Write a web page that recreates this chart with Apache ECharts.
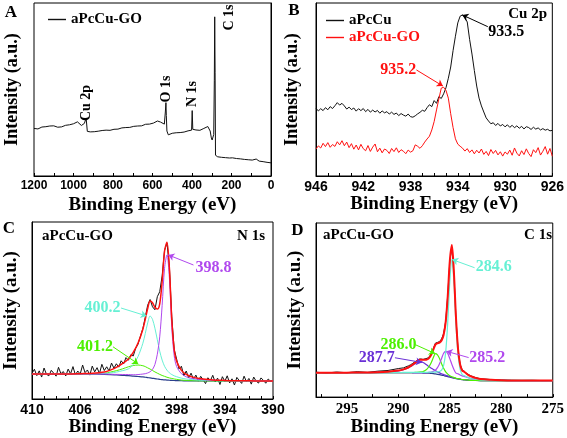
<!DOCTYPE html>
<html><head><meta charset="utf-8">
<script src="https://cdn.jsdelivr.net/npm/echarts@6/dist/echarts.min.js"></script>
<style>html,body{margin:0;padding:0;background:#fff}#c{width:567px;height:438px}</style>
</head><body><div id="c"></div>
<script>
// ---------- Panel A: survey spectrum (eV, intensity) ----------
const surveyGO = [[1200,27.5],[1190,28.0],[1180,27.2],[1170,27.8],[1160,28.3],[1150,27.9],[1140,28.5],[1130,28.1],[1120,28.9],[1110,29.4],[1100,29.0],[1090,28.6],[1080,28.2],[1070,28.8],[1060,28.4],[1050,29.0],[1040,29.3],[1030,29.1],[1020,29.6],[1010,29.9],[1000,30.2],[990,30.5],[980,31.3],[970,30.6],[960,29.2],[950,29.9],[945,30.4],[940,29.5],[936,33.5],[934,33.0],[930,25.8],[925,25.0],[915,25.5],[905,25.2],[895,25.6],[885,25.4],[875,25.9],[865,26.0],[855,26.3],[845,26.1],[835,26.5],[825,26.7],[815,26.4],[805,26.9],[795,27.0],[785,27.3],[775,27.1],[765,27.5],[755,27.8],[745,27.6],[735,28.0],[725,28.3],[715,28.1],[705,28.5],[695,28.7],[685,28.4],[675,28.9],[665,29.2],[655,29.0],[645,29.6],[635,29.9],[625,29.7],[615,30.0],[605,30.3],[595,30.6],[585,31.0],[575,31.8],[568,32.0],[560,31.2],[550,30.5],[540,30.0],[535,37.0],[532,42.4],[530,35.0],[527,26.0],[520,23.8],[510,24.3],[500,24.7],[490,24.5],[480,25.0],[470,25.3],[460,25.1],[450,25.6],[440,25.4],[430,25.9],[420,26.1],[410,26.0],[402,26.5],[399,37.8],[396,27.0],[390,26.3],[380,26.6],[370,26.8],[360,26.4],[350,27.0],[340,27.5],[330,27.9],[320,28.6],[315,28.3],[308,26.0],[302,22.0],[298,20.8],[294,21.5],[290,24.0],[287,55.0],[285,92.0],[283,60.0],[281,12.0],[278,11.3],[270,11.1],[260,11.0],[250,10.8],[240,10.9],[230,10.6],[220,10.8],[210,10.4],[200,11.3],[195,10.5],[185,10.3],[175,10.1],[165,10.2],[155,9.9],[145,9.8],[135,9.6],[125,9.7],[115,9.4],[105,9.3],[95,9.2],[85,9.0],[75,9.8],[70,8.9],[60,8.6],[50,8.5],[40,8.3],[30,8.0],[20,7.9],[10,7.8],[0,7.6]];
const surveyLabels = [["Cu 2p",933,42.2],["O 1s",532,50.3],["N 1s",397,47.4],["C 1s",213,91.6]];

// ---------- Panel B: Cu 2p ----------
const cuPc = [[946.0,39.1],[945.8,37.6],[945.6,38.9],[945.4,37.8],[945.2,39.5],[945.0,38.3],[944.8,40.1],[944.6,39.0],[944.4,40.6],[944.2,42.4],[944.0,41.0],[943.8,42.0],[943.6,40.5],[943.4,38.7],[943.2,39.8],[943.0,38.4],[942.8,39.3],[942.6,37.5],[942.4,38.9],[942.2,37.8],[942.0,39.0],[941.8,37.2],[941.6,38.5],[941.4,36.9],[941.2,38.1],[941.0,37.0],[940.8,37.9],[940.6,36.3],[940.4,37.6],[940.2,36.5],[940.0,37.2],[939.8,35.8],[939.6,36.9],[939.4,35.6],[939.2,36.4],[939.0,34.9],[938.8,36.1],[938.6,35.2],[938.4,34.6],[938.2,35.8],[938.0,34.3],[937.8,34.0],[937.6,34.8],[937.4,35.9],[937.2,36.8],[937.0,38.0],[936.8,37.4],[936.6,39.5],[936.4,41.2],[936.2,40.1],[936.0,43.6],[935.8,42.0],[935.6,45.9],[935.4,44.8],[935.2,47.5],[935.0,51.0],[934.8,56.5],[934.6,63.0],[934.4,72.5],[934.2,80.8],[934.0,88.5],[933.8,92.4],[933.6,93.1],[933.4,91.6],[933.2,89.0],[933.0,79.0],[932.8,70.5],[932.6,61.0],[932.4,52.0],[932.2,45.0],[932.0,40.5],[931.8,37.0],[931.6,33.6],[931.4,31.8],[931.2,30.2],[931.0,30.8],[930.8,29.2],[930.6,30.4],[930.4,28.9],[930.2,29.8],[930.0,28.4],[929.8,29.6],[929.6,28.1],[929.4,29.3],[929.2,27.9],[929.0,29.0],[928.8,27.6],[928.6,28.7],[928.4,27.2],[928.2,28.5],[928.0,28.0],[927.8,26.9],[927.6,28.2],[927.4,27.1],[927.2,27.8],[927.0,26.6],[926.8,27.4],[926.6,26.5],[926.4,27.0],[926.2,26.1],[926.0,26.4]];
const cuGO = [[946.0,15.6],[945.8,17.4],[945.6,16.2],[945.4,18.9],[945.2,17.0],[945.0,19.3],[944.8,16.6],[944.6,18.2],[944.4,17.1],[944.2,19.8],[944.0,18.0],[943.8,20.4],[943.6,17.5],[943.4,19.6],[943.2,16.4],[943.0,18.7],[942.8,15.5],[942.6,17.9],[942.4,15.1],[942.2,18.3],[942.0,15.8],[941.8,14.6],[941.6,17.6],[941.4,14.2],[941.2,16.7],[941.0,18.5],[940.8,14.0],[940.6,16.1],[940.4,13.4],[940.2,15.6],[940.0,14.8],[939.8,13.0],[939.6,15.9],[939.4,14.1],[939.2,16.3],[939.0,13.6],[938.8,15.2],[938.6,14.3],[938.4,12.9],[938.2,15.0],[938.0,13.8],[937.8,14.6],[937.6,18.0],[937.4,17.2],[937.2,16.0],[937.0,17.5],[936.8,19.6],[936.6,21.4],[936.4,23.0],[936.2,26.6],[936.0,31.5],[935.8,38.2],[935.6,44.6],[935.4,50.8],[935.2,51.3],[935.0,49.5],[934.8,45.0],[934.6,36.0],[934.4,28.0],[934.2,21.5],[934.0,18.4],[933.8,17.2],[933.6,16.1],[933.4,14.4],[933.2,15.8],[933.0,13.6],[932.8,15.1],[932.6,12.8],[932.4,14.9],[932.2,13.3],[932.0,15.6],[931.8,12.5],[931.6,14.2],[931.4,11.8],[931.2,15.3],[931.0,13.0],[930.8,14.8],[930.6,12.2],[930.4,14.0],[930.2,11.5],[930.0,13.9],[929.8,12.6],[929.6,15.0],[929.4,12.0],[929.2,16.2],[929.0,13.2],[928.8,11.6],[928.6,14.6],[928.4,12.4],[928.2,15.7],[928.0,13.0],[927.8,11.2],[927.6,15.2],[927.4,13.5],[927.2,16.4],[927.0,12.1],[926.8,14.3],[926.6,17.0],[926.4,12.6],[926.2,15.9],[926.0,11.4]];

// ---------- Panel C: N 1s ----------
const n1sData = [[410.0,14.5],[409.8,16.8],[409.6,13.2],[409.4,15.9],[409.2,12.4],[409.0,17.5],[408.8,14.0],[408.6,13.1],[408.4,16.2],[408.2,14.6],[408.0,12.9],[407.8,17.9],[407.6,14.3],[407.4,15.5],[407.2,13.0],[407.0,16.9],[406.8,14.2],[406.6,18.3],[406.4,13.6],[406.2,15.8],[406.0,14.1],[405.8,19.2],[405.6,14.9],[405.4,16.4],[405.2,13.5],[405.0,18.6],[404.8,15.3],[404.6,17.7],[404.4,14.4],[404.2,19.6],[404.0,16.1],[403.8,18.2],[403.6,15.8],[403.4,20.3],[403.2,17.4],[403.0,19.9],[402.8,18.0],[402.6,21.6],[402.4,19.8],[402.2,23.4],[402.0,21.9],[401.8,25.0],[401.6,24.3],[401.4,28.6],[401.2,31.0],[401.0,35.5],[400.8,39.8],[400.6,46.2],[400.4,53.0],[400.2,56.2],[400.0,52.1],[399.8,50.4],[399.6,57.8],[399.4,60.6],[399.2,69.5],[399.0,84.0],[398.8,88.2],[398.6,75.0],[398.4,46.5],[398.2,28.0],[398.0,22.6],[397.8,17.0],[397.6,18.5],[397.4,13.2],[397.2,15.8],[397.0,11.9],[396.8,14.6],[396.6,11.2],[396.4,13.5],[396.2,10.1],[396.0,12.8],[395.8,10.9],[395.6,8.7],[395.4,12.0],[395.2,10.3],[395.0,13.4],[394.8,9.6],[394.6,11.8],[394.4,8.2],[394.2,12.6],[394.0,10.0],[393.8,13.1],[393.6,9.1],[393.4,11.4],[393.2,7.9],[393.0,12.2],[392.8,10.4],[392.6,8.8],[392.4,12.9],[392.2,9.7],[392.0,11.6],[391.8,8.4],[391.6,12.4],[391.4,10.1],[391.2,9.0],[391.0,11.9],[390.8,10.6],[390.6,8.9],[390.4,11.3],[390.2,10.0],[390.0,10.5]];
const n1sEnergy = [410,409,408,407,406,405,404,403.5,403,402.5,402,401.6,401.2,400.8,400.6,400.4,400.2,400.0,399.8,399.6,399.4,399.2,399.0,398.8,398.6,398.4,398.2,398.0,397.6,397.2,396.8,396,395,394,393,392,391,390];
const n1sBg   = [14.1,14.1,14.1,14.1,14.0,14.0,13.9,13.8,13.6,13.4,13.2,12.9,12.7,12.5,12.3,12.1,11.9,11.7,11.5,11.3,11.1,10.9,10.8,10.7,10.6,10.5,10.45,10.4,10.3,10.25,10.2,10.2,10.2,10.2,10.2,10.2,10.2,10.2];
const n1s4012 = [14.1,14.1,14.1,14.1,14.1,14.2,14.5,15.2,16.0,17.0,18.2,18.9,19.2,18.8,18.3,17.6,16.9,16.1,15.3,14.6,13.9,13.3,12.8,12.3,11.9,11.6,11.3,11.1,10.7,10.5,10.35,10.25,10.2,10.2,10.2,10.2,10.2,10.2];
const n1s4002 = [14.1,14.1,14.1,14.1,14.1,14.2,14.4,14.7,15.2,16.0,17.0,19.5,24.0,31.5,37.0,43.0,46.9,45.0,40.0,33.5,27.0,22.0,18.5,16.3,14.8,13.8,13.1,12.6,11.8,11.3,11.0,10.6,10.4,10.3,10.2,10.2,10.2,10.2];
const n1s3988 = [14.1,14.1,14.1,14.1,14.1,14.1,14.1,14.0,13.9,13.85,13.8,13.7,13.8,14.1,14.3,14.7,15.4,16.7,19.5,25.3,35.1,52.9,73.8,81.4,68.6,40.5,24.45,18.4,14.3,12.55,11.7,11.0,10.6,10.4,10.3,10.25,10.2,10.2];
const n1sFit  = [14.1,14.1,14.1,14.1,14.3,14.5,15.2,16.3,17.9,20.05,22.6,26.3,31.6,39.4,45.0,51.1,55.4,54.4,51.8,50.8,53.8,66.4,83.5,88.6,74.1,44.9,27.95,21.3,16.2,13.85,12.65,11.45,10.8,10.5,10.3,10.25,10.2,10.2];

// ---------- Panel D: C 1s ----------
const c1sEnergy = [298,297,296,295,294,293,292,291,290,289.5,289,288.8,288.6,288.4,288.2,288,287.8,287.6,287.4,287.2,287,286.8,286.6,286.4,286.2,286,285.8,285.6,285.4,285.2,285,284.8,284.6,284.4,284.2,284,283.8,283.6,283.4,283,282.5,282,281,280,279,278,277,276,275];
const c1sBg   = [14.0,14.0,14.0,14.0,14.0,14.0,14.0,14.0,14.0,14.0,14.0,14.0,13.95,13.95,13.9,13.9,13.85,13.8,13.8,13.75,13.7,13.6,13.5,13.3,13.1,12.9,12.6,12.4,12.0,11.8,11.5,11.2,10.9,10.6,10.4,10.2,10.0,9.9,9.8,9.6,9.55,9.5,9.5,9.5,9.5,9.5,9.5,9.5,9.5];
const c1s2877 = [14.0,14.0,14.0,14.0,14.05,14.1,14.2,14.5,15.1,15.8,16.9,17.6,18.35,19.15,19.9,20.6,20.4,19.9,19.2,18.3,17.4,16.6,15.9,15.2,14.5,13.9,13.4,13.0,12.5,12.2,11.8,11.4,11.1,10.8,10.5,10.3,10.1,10.0,9.9,9.65,9.55,9.5,9.5,9.5,9.5,9.5,9.5,9.5,9.5];
const c1s2860 = [14.0,14.0,14.0,14.0,14.0,14.0,14.0,14.0,14.0,14.0,14.05,14.1,14.1,14.15,14.2,14.3,14.45,14.7,15.3,16.25,17.7,19.9,22.7,25.0,24.3,22.2,19.2,16.6,14.5,13.2,12.3,11.7,11.25,10.85,10.6,10.35,10.1,10.0,9.85,9.65,9.55,9.5,9.5,9.5,9.5,9.5,9.5,9.5,9.5];
const c1s2852 = [14.0,14.0,14.0,14.0,14.0,14.0,14.0,14.0,14.0,14.0,14.0,14.0,13.95,14.0,14.0,14.0,14.0,14.0,14.05,14.1,14.2,14.4,14.8,15.5,16.9,19.2,22.2,25.2,26.3,25.0,22.1,18.8,15.9,13.8,13.4,12.7,12.2,11.9,11.5,10.8,10.35,10.0,9.75,9.6,9.5,9.5,9.5,9.5,9.5];
const c1s2846 = [14.02,14.02,14.02,14.03,14.04,14.05,14.07,14.09,14.13,14.15,14.18,14.2,14.17,14.2,14.18,14.2,14.2,14.2,14.25,14.25,14.3,14.3,14.35,14.35,14.5,14.7,15.5,18.2,25.9,43.1,66.4,79.0,65.8,41.9,24.3,16.0,12.9,12.4,11.7,10.7,10.25,9.85,9.7,9.63,9.59,9.57,9.55,9.54,9.53];
const c1sFit  = [14.02,14.02,14.02,14.03,14.1,14.15,14.25,14.6,15.25,15.95,17.15,17.9,18.7,19.65,20.6,21.4,21.5,21.4,21.4,21.65,22.5,24.4,27.25,30.15,30.9,31.3,32.5,35.8,43.2,58.1,78.1,87.3,71.35,45.55,27.6,18.75,15.3,14.6,13.55,12.0,11.05,10.35,9.95,9.73,9.59,9.57,9.55,9.54,9.53];
const c1sData = [14.3,13.8,14.4,14.0,14.6,14.2,14.9,15.3,16.4,16.8,18.0,18.6,19.4,20.2,20.9,21.8,21.9,21.6,22.0,22.3,23.1,25.0,28.0,31.0,31.4,31.9,33.4,36.5,43.6,58.6,78.0,86.2,70.6,45.0,27.4,18.9,15.6,14.8,13.7,12.3,11.2,10.5,10.1,9.9,9.7,9.6,9.65,9.5,9.55];

// ---------- styling ----------
const SERIF = '"Liberation Serif","Times New Roman",serif';
const SANS = '"Liberation Sans",Arial,sans-serif';
const COL = {black:'#111111', red:'#ff1010', cyan:'#66f0d4', green:'#4cf000', purple:'#b048ee', violet:'#6a30d6', navy:'#2b3f8c'};
const zip = (xs, ys) => xs.map((x, i) => [x, ys[i]]);

function ann(items, color, size, rotate) {
  return {
    symbol: 'rect', symbolSize: 1, silent: true,
    itemStyle: {color: 'rgba(0,0,0,0)'},
    label: {show: true, position: 'inside', color, fontSize: size, fontWeight: 'bold', fontFamily: SERIF, rotate: rotate || 0},
    data: items.map(t => ({coord: [t[1], t[2]], value: t[0], label: {formatter: t[0]}}))
  };
}
function leader(from, to, color) {
  return {
    silent: true, symbol: ['none', 'arrow'], symbolSize: 6,
    lineStyle: {color, width: 1, type: 'solid'}, label: {show: false},
    data: [[{coord: from}, {coord: to}]]
  };
}
function ln(name, data, color, width, gi, extra) {
  return Object.assign({type: 'line', name, data, xAxisIndex: gi, yAxisIndex: gi, symbol: 'none', showSymbol: false,
    lineStyle: {color, width}, itemStyle: {color}, silent: true, animation: false}, extra || {});
}
function xAx(gi, min, max, interval, labelFn, font, fsize, nameGap, margin) {
  return {gridIndex: gi, type: 'value', min, max, interval, inverse: true,
    axisLine: {show: true, lineStyle: {color: '#000', width: 1}},
    axisTick: {show: true, inside: true, length: 3, lineStyle: {color: '#000'}},
    splitLine: {show: false},
    axisLabel: {margin, fontFamily: font, fontWeight: 'bold', fontSize: fsize, color: '#000', formatter: labelFn},
    name: 'Binding Energy (eV)', nameLocation: 'middle', nameGap,
    nameTextStyle: {fontFamily: SERIF, fontWeight: 'bold', fontSize: 19, color: '#000'}};
}
function yAx(gi, nameGap, fsize) {
  return {gridIndex: gi, type: 'value', min: 0, max: 100,
    axisLine: {show: true, lineStyle: {color: '#000'}}, axisTick: {show: false}, axisLabel: {show: false}, splitLine: {show: false},
    name: 'Intensity (a.u.)', nameLocation: 'middle', nameRotate: 90, nameGap,
    nameTextStyle: {fontFamily: SERIF, fontWeight: 'bold', fontSize: fsize, color: '#000'}};
}
const gridBase = {show: true, borderColor: '#000', borderWidth: 1, backgroundColor: '#fff'};
const legendText = {fontFamily: SERIF, fontWeight: 'bold', fontSize: 15, color: '#000'};

const option = {
  animation: false,
  backgroundColor: '#fff',
  grid: [
    Object.assign({left: 34, top: 3, width: 237, height: 173}, gridBase),
    Object.assign({left: 316, top: 3, width: 237, height: 173}, gridBase),
    Object.assign({left: 32, top: 222, width: 241, height: 177}, gridBase),
    Object.assign({left: 316, top: 223, width: 240, height: 176}, gridBase)
  ],
  xAxis: [
    xAx(0, 0, 1200, 100, v => (v % 200 === 0 ? String(v) : ''), SANS, 12, 20, 4),
    xAx(1, 926, 946, 1, v => ((946 - v) % 4 === 0 ? String(v) : ''), SANS, 14, 18, 4),
    xAx(2, 390, 410, 1, v => ((410 - v) % 4 === 0 ? String(v) : ''), SANS, 14, 16, 4),
    xAx(3, 275, 298, 2.5, v => (v % 5 === 0 ? String(v) : ''), SERIF, 15, 16, 5)
  ],
  yAxis: [yAx(0, 13, 18), yAx(1, 15, 18), yAx(2, 11, 19), yAx(3, 11, 19)],
  legend: [
    {left: 43, top: 7, icon: 'rect', itemWidth: 18, itemHeight: 1.4, selectedMode: false, data: ['A aPcCu-GO'],
     formatter: () => 'aPcCu-GO', textStyle: legendText},
    {left: 321, top: 8, orient: 'vertical', icon: 'rect', itemGap: 2, itemWidth: 18, itemHeight: 1.4, selectedMode: false,
     data: [{name: 'aPcCu'}, {name: 'aPcCu-GO', textStyle: {color: COL.red}}],
     textStyle: legendText}
  ],
  series: [
    // A
    ln('A aPcCu-GO', surveyGO, COL.black, 1, 0, {markPoint: ann(surveyLabels, '#000', 14, 90)}),
    // B
    ln('aPcCu', cuPc, COL.black, 1, 1, {
      markPoint: ann([['933.5', 929.9, 83.2]], '#000', 16),
      markLine: leader([931.46, 86.3], [933.62, 93.1], '#000')}),
    ln('aPcCu-GO', cuGO, COL.red, 1, 1, {
      markPoint: ann([['935.2', 939.04, 61.3]], COL.red, 16),
      markLine: leader([937.5, 61.3], [935.26, 52.0], COL.red)}),
    // C
    ln('N data', n1sData, COL.black, 1, 2),
    ln('N bg', zip(n1sEnergy, n1sBg), COL.navy, 1.2, 2, {smooth: 0.3}),
    ln('N 401.2', zip(n1sEnergy, n1s4012), COL.green, 1, 2, {smooth: 0.3,
      markPoint: ann([['401.2', 404.77, 29.4]], COL.green, 16),
      markLine: leader([403.28, 29.5], [401.18, 19.8], COL.green)}),
    ln('N 400.2', zip(n1sEnergy, n1s4002), COL.cyan, 1, 2, {smooth: 0.3,
      markPoint: ann([['400.2', 404.15, 51.4]], COL.cyan, 16),
      markLine: leader([402.61, 51.4], [400.48, 46.9], COL.cyan)}),
    ln('N 398.8', zip(n1sEnergy, n1s3988), COL.purple, 1, 2, {smooth: 0.3,
      markPoint: ann([['398.8', 394.94, 74.3]], COL.purple, 16),
      markLine: leader([396.6, 75.7], [398.69, 81.4], COL.purple)}),
    ln('N fit', zip(n1sEnergy, n1sFit), COL.red, 1.5, 2, {smooth: 0.3}),
    // D
    ln('C data', zip(c1sEnergy, c1sData), COL.black, 1, 3),
    ln('C bg', zip(c1sEnergy, c1sBg), COL.navy, 1.2, 3, {smooth: 0.3}),
    ln('C 287.7', zip(c1sEnergy, c1s2877), COL.violet, 1.2, 3, {smooth: 0.3,
      markPoint: ann([['287.7', 292.1, 22.7]], COL.violet, 16),
      markLine: leader([290.33, 22.6], [287.71, 19.9], COL.violet)}),
    ln('C 286.0', zip(c1sEnergy, c1s2860), COL.green, 1.2, 3, {smooth: 0.3,
      markPoint: ann([['286.0', 289.99, 30.1]], COL.green, 16),
      markLine: leader([288.35, 30.1], [286.43, 25.0], COL.green)}),
    ln('C 285.2', zip(c1sEnergy, c1s2852), COL.purple, 1.2, 3, {smooth: 0.3,
      markPoint: ann([['285.2', 281.37, 22.7]], COL.purple, 16),
      markLine: leader([283.17, 22.7], [285.32, 26.3], COL.purple)}),
    ln('C 284.6', zip(c1sEnergy, c1s2846), COL.cyan, 1.2, 3, {smooth: 0.3,
      markPoint: ann([['284.6', 280.74, 74.7]], COL.cyan, 16),
      markLine: leader([282.59, 74.3], [284.77, 79.0], COL.cyan)}),
    ln('C fit', zip(c1sEnergy, c1sFit), COL.red, 2, 3, {smooth: 0.3})
  ],
  graphic: [
    {type: 'text', x: 11, y: 12.5, style: {text: 'A', font: 'bold 17px ' + SERIF, fill: '#000', align: 'center', verticalAlign: 'middle'}},
    {type: 'text', x: 294, y: 11, style: {text: 'B', font: 'bold 17px ' + SERIF, fill: '#000', align: 'center', verticalAlign: 'middle'}},
    {type: 'text', x: 9, y: 229, style: {text: 'C', font: 'bold 17px ' + SERIF, fill: '#000', align: 'center', verticalAlign: 'middle'}},
    {type: 'text', x: 297.5, y: 231, style: {text: 'D', font: 'bold 17px ' + SERIF, fill: '#000', align: 'center', verticalAlign: 'middle'}},
    {type: 'text', x: 547, y: 14, style: {text: 'Cu 2p', font: 'bold 15px ' + SERIF, fill: '#000', align: 'right', verticalAlign: 'middle'}},
    {type: 'text', x: 42, y: 236, style: {text: 'aPcCu-GO', font: 'bold 15px ' + SERIF, fill: '#000', align: 'left', verticalAlign: 'middle'}},
    {type: 'text', x: 265, y: 236, style: {text: 'N 1s', font: 'bold 15px ' + SERIF, fill: '#000', align: 'right', verticalAlign: 'middle'}},
    {type: 'text', x: 323, y: 235, style: {text: 'aPcCu-GO', font: 'bold 15px ' + SERIF, fill: '#000', align: 'left', verticalAlign: 'middle'}},
    {type: 'text', x: 552, y: 235, style: {text: 'C 1s', font: 'bold 15px ' + SERIF, fill: '#000', align: 'right', verticalAlign: 'middle'}}
  ]
};
const chart = echarts.init(document.getElementById('c'), null, {renderer: 'canvas'});
chart.setOption(option);
</script></body></html>
